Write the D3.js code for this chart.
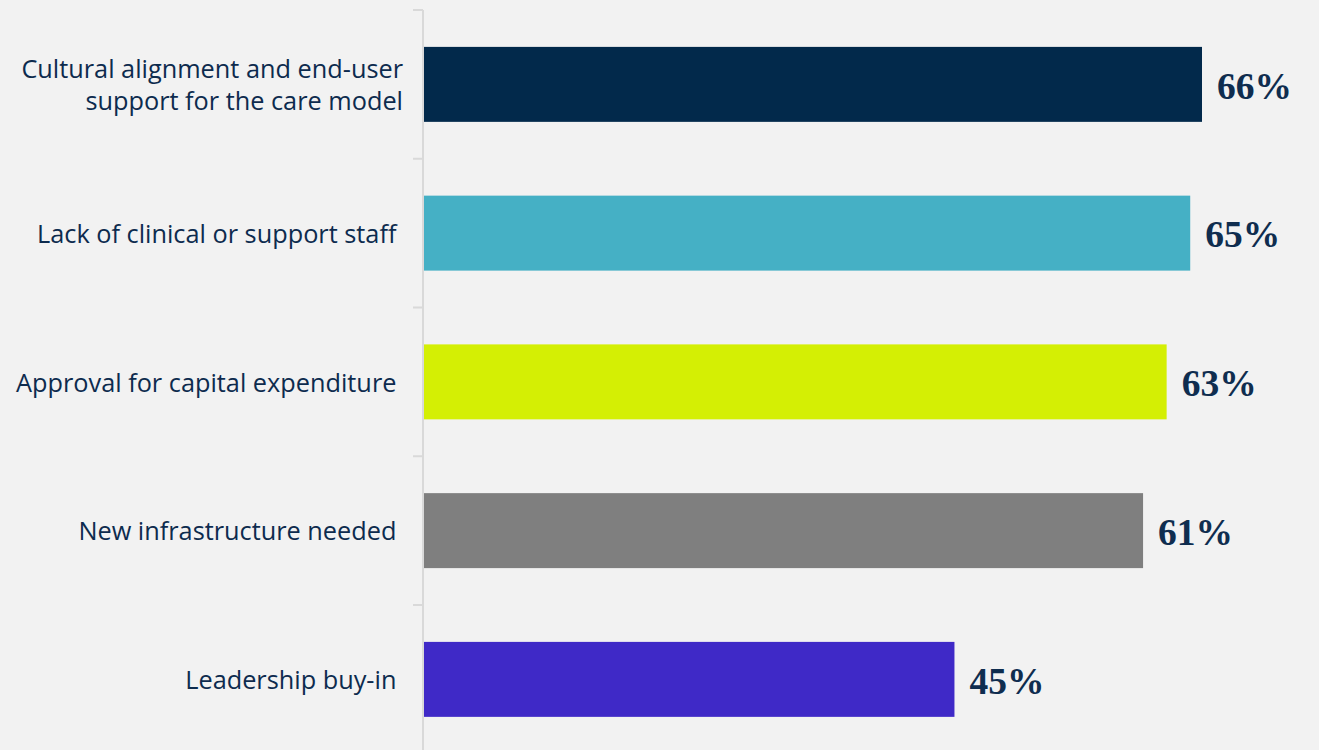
<!DOCTYPE html>
<html>
<head>
<meta charset="utf-8">
<script src="https://cdn.jsdelivr.net/npm/d3@7"></script>
<style>
  html, body { margin: 0; padding: 0; background: #f2f2f2; }
  svg { display: block; }
</style>
</head>
<body>
<svg id="chart" width="1319" height="750"></svg>
<script>
// Barriers to adopting the care model, share of respondents
const categories = [
  ["Cultural alignment and end-user", "support for the care model"],
  ["Lack of clinical or support staff "],
  ["Approval for capital expenditure "],
  ["New infrastructure needed "],
  ["Leadership buy-in "]
];
const values = [66, 65, 63, 61, 45];
const valueLabels = ["66%", "65%", "63%", "61%", "45%"];
const barColors = ["#02294b", "#45b0c5", "#d4ef04", "#7f7f7f", "#3f29c7"];

const svg = d3.select("#chart");
const W = 1319, H = 750;
svg.append("rect").attr("width", W).attr("height", H).attr("fill", "#f2f2f2");

const axisX = 423;
const ids = categories.map((d, i) => i);

const x = d3.scaleLinear().domain([0, 66]).range([axisX + 1, 1202]);
const y = d3.scaleBand().domain(ids).range([10, 753.75])
  .paddingInner(0.496).paddingOuter(0.248);

// Category axis with short outward ticks at band boundaries
const axisG = svg.append("g");
axisG.append("line")
  .attr("x1", axisX).attr("x2", axisX)
  .attr("y1", 10).attr("y2", H)
  .attr("stroke", "#d9d9d9").attr("stroke-width", 2);
const step = y.step();
const boundaries = d3.range(categories.length).map(i => y.range()[0] + i * step);
axisG.selectAll("line.tick").data(boundaries).join("line")
  .attr("class", "tick")
  .attr("x1", axisX - 10).attr("x2", axisX)
  .attr("y1", d => d).attr("y2", d => d)
  .attr("stroke", "#d9d9d9").attr("stroke-width", 2);

// Bars
svg.append("g").selectAll("rect").data(values).join("rect")
  .attr("x", x(0))
  .attr("y", (d, i) => y(i))
  .attr("width", d => x(d) - x(0))
  .attr("height", y.bandwidth())
  .attr("fill", (d, i) => barColors[i]);

// Category labels (trailing space kept, as in the source labels)
const lineH = 32;
svg.append("g").selectAll("text").data(categories).join("text")
  .attr("text-anchor", "end")
  .attr("font-family", "'Open Sans', 'Noto Sans', sans-serif")
  .attr("font-size", 25.3)
  .attr("fill", "#0d2b4e")
  .attr("xml:space", "preserve")
  .style("white-space", "pre")
  .each(function (lines, i) {
    const cy = y(i) + y.bandwidth() / 2 + 1;
    const t = d3.select(this);
    lines.forEach((ln, k) => {
      t.append("tspan")
        .attr("x", 403)
        .attr("y", cy + (k - (lines.length - 1) / 2) * lineH)
        .attr("dy", "0.35em")
        .text(ln);
    });
  });

// Value labels
svg.append("g").selectAll("text").data(values).join("text")
  .attr("x", d => x(d) + 15)
  .attr("y", (d, i) => y(i) + y.bandwidth() / 2 + 1)
  .attr("dy", "0.35em")
  .attr("font-family", "'Liberation Serif', 'Times New Roman', serif")
  .attr("font-weight", "bold")
  .attr("font-size", 37.5)
  .attr("fill", "#0f2d4f")
  .text((d, i) => valueLabels[i]);
</script>
</body>
</html>
